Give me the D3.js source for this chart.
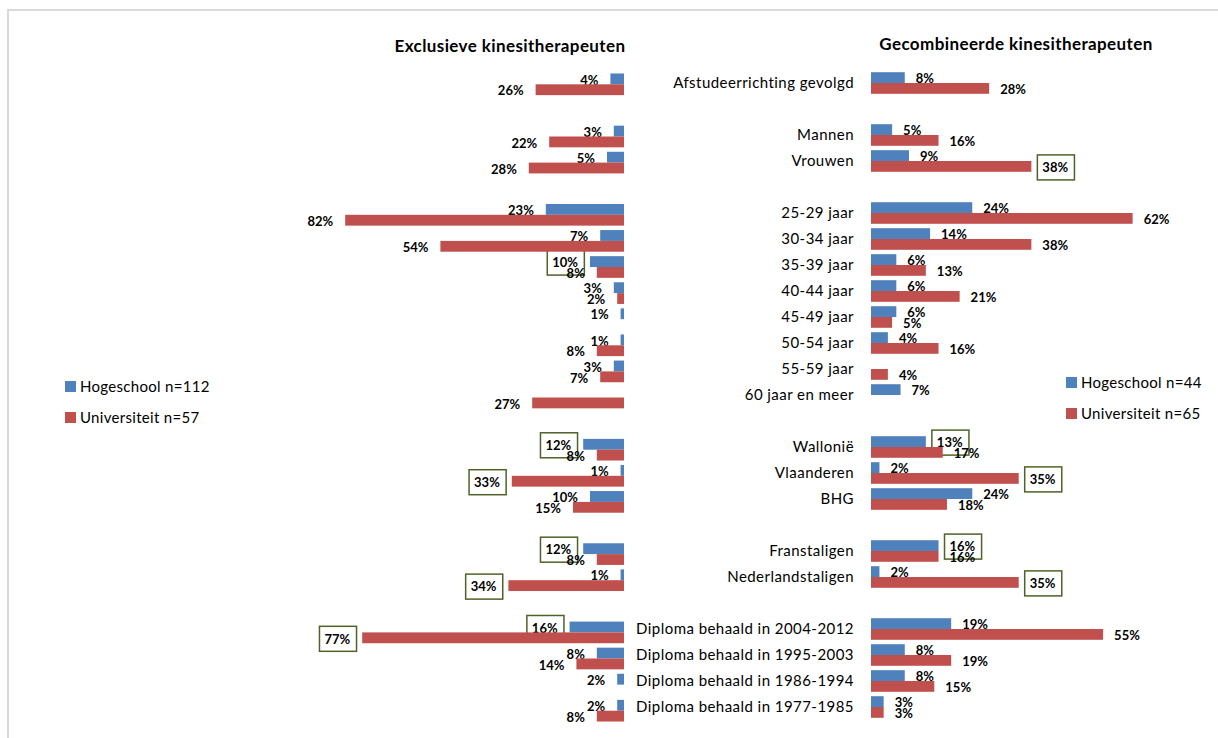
<!DOCTYPE html>
<html>
<head>
<meta charset="utf-8">
<script src="https://cdn.jsdelivr.net/npm/d3@7"></script>
<style>
  html, body { margin: 0; padding: 0; background: #fff; }
  svg { display: block; font-family: "Lato", "Liberation Sans", sans-serif; }
</style>
</head>
<body>
<svg id="chart" width="1218" height="738"></svg>
<script>
// Rows shared by both panels (empty strings are spacer rows between groups)
const rowLabels = [
  "Afstudeerrichting gevolgd", "",
  "Mannen", "Vrouwen", "",
  "25-29 jaar", "30-34 jaar", "35-39 jaar", "40-44 jaar", "45-49 jaar",
  "50-54 jaar", "55-59 jaar", "60 jaar en meer", "",
  "Wallonië", "Vlaanderen", "BHG", "",
  "Franstaligen", "Nederlandstaligen", "",
  "Diploma behaald in 2004-2012", "Diploma behaald in 1995-2003",
  "Diploma behaald in 1986-1994", "Diploma behaald in 1977-1985"
];

// Exclusieve kinesitherapeuten (%)
const exclHogeschool   = [4, null, 3, 5, null, 23, 7, 10, 3, 1, 1, 3, null, null, 12, 1, 10, null, 12, 1, null, 16, 8, 2, 2];
const exclUniversiteit = [26, null, 22, 28, null, 82, 54, 8, 2, null, 8, 7, 27, null, 8, 33, 15, null, 8, 34, null, 77, 14, null, 8];

// Gecombineerde kinesitherapeuten (%)
const combHogeschool   = [8, null, 5, 9, null, 24, 14, 6, 6, 6, 4, null, 7, null, 13, 2, 24, null, 16, 2, null, 19, 8, 8, 3];
const combUniversiteit = [28, null, 16, 38, null, 62, 38, 13, 21, 5, 16, 4, null, null, 17, 35, 18, null, 16, 35, null, 55, 19, 15, 3];

// Rows whose value label is framed as a highlight
const exclHogeschoolBoxed   = [7, 14, 18, 21];
const exclUniversiteitBoxed = [15, 19, 21];
const combHogeschoolBoxed   = [14, 18];
const combUniversiteitBoxed = [3, 15, 19];

const seriesNames = ["Hogeschool", "Universiteit"];
const exclLegend = ["Hogeschool n=112", "Universiteit n=57"];
const combLegend = ["Hogeschool n=44", "Universiteit n=65"];

const colors = { Hogeschool: "#4F81BD", Universiteit: "#C0504D" };
const boxColor = "#4F6228";

const svg = d3.select("#chart");

// outer chart frame
svg.append("path")
  .attr("d", "M8,738V10H1218")
  .attr("fill", "none")
  .attr("stroke", "#d9d9d9")
  .attr("stroke-width", 2);

const rowIdx = d3.range(rowLabels.length);

function panel(opts) {
  const g = svg.append("g");
  const y = d3.scaleBand()
    .domain(rowIdx)
    .range(opts.yRange)
    .paddingInner(0.17)
    .paddingOuter(0.085);
  const ySub = d3.scaleBand()
    .domain(seriesNames)
    .range([0, y.bandwidth()]);
  const x = d3.scaleLinear().domain([0, 100]).range(opts.xRange);
  const dir = opts.xRange[1] > opts.xRange[0] ? 1 : -1;

  const series = [
    { name: "Hogeschool", values: opts.hoge, boxed: opts.hogeBoxed },
    { name: "Universiteit", values: opts.univ, boxed: opts.univBoxed }
  ];

  series.forEach(s => {
    const pts = rowIdx.filter(i => s.values[i] != null)
      .map(i => ({ i, v: s.values[i], boxed: s.boxed.includes(i) }));

    g.append("g").selectAll("rect")
      .data(pts)
      .join("rect")
      .attr("x", d => Math.min(x(0), x(d.v)))
      .attr("width", d => Math.abs(x(d.v) - x(0)))
      .attr("y", d => y(d.i) + ySub(s.name))
      .attr("height", ySub.bandwidth())
      .attr("fill", colors[s.name]);

    const lbl = g.append("g").selectAll("g")
      .data(pts)
      .join("g")
      .attr("transform", d => {
        const cy = y(d.i) + ySub(s.name) + ySub.bandwidth() / 2 + 1;
        return `translate(${x(d.v) + dir * opts.labelGap},${cy})`;
      });

    lbl.append("text")
      .attr("text-anchor", dir > 0 ? "start" : "end")
      .attr("dy", "0.36em")
      .attr("font-size", 13)
      .attr("font-weight", "bold")
      .attr("fill", "#000")
      .text(d => d.v + "%");

    lbl.filter(d => d.boxed).each(function () {
      const grp = d3.select(this);
      const bb = grp.select("text").node().getBBox();
      grp.insert("rect", "text")
        .attr("x", bb.x - 5)
        .attr("y", -12.5)
        .attr("width", bb.width + 11)
        .attr("height", 25)
        .attr("fill", "none")
        .attr("stroke", boxColor)
        .attr("stroke-width", 1.5);
    });
  });

  // title
  g.append("text")
    .attr("x", opts.titleX)
    .attr("y", opts.titleY)
    .attr("text-anchor", "middle")
    .attr("font-size", 17)
    .attr("font-weight", "bold")
    .attr("letter-spacing", 0.4)
    .text(opts.title);

  // legend
  const leg = g.append("g").selectAll("g")
    .data(seriesNames.map((n, k) => ({ n, label: opts.legend[k], k })))
    .join("g")
    .attr("transform", d => `translate(${opts.legendX},${opts.legendY + d.k * 31})`);
  leg.append("rect")
    .attr("x", 0).attr("y", -5.5)
    .attr("width", 11).attr("height", 11)
    .attr("fill", d => colors[d.n]);
  leg.append("text")
    .attr("x", 15)
    .attr("dy", "0.35em")
    .attr("font-size", 15)
    .attr("letter-spacing", 0.3)
    .text(d => d.label);

  return { g, x, y };
}

panel({
  title: "Exclusieve kinesitherapeuten",
  titleX: 510, titleY: 52,
  xRange: [624, 284],
  yRange: [71.25, 723.75],
  hoge: exclHogeschool, univ: exclUniversiteit,
  hogeBoxed: exclHogeschoolBoxed, univBoxed: exclUniversiteitBoxed,
  labelGap: 12,
  legend: exclLegend, legendX: 65, legendY: 386.5
});

const right = panel({
  title: "Gecombineerde kinesitherapeuten",
  titleX: 1016, titleY: 50,
  xRange: [871, 1293],
  yRange: [70, 720],
  hoge: combHogeschool, univ: combUniversiteit,
  hogeBoxed: combHogeschoolBoxed, univBoxed: combUniversiteitBoxed,
  labelGap: 11,
  legend: combLegend, legendX: 1066, legendY: 382.5
});

// category labels to the left of the right-hand panel
right.g.append("g")
  .attr("transform", "translate(871,0)")
  .call(d3.axisLeft(right.y).tickSize(0).tickPadding(17).tickFormat(i => rowLabels[i]))
  .call(ax => ax.select(".domain").remove())
  .call(ax => ax.selectAll("text")
    .attr("font-family", "Lato, 'Liberation Sans', sans-serif")
    .attr("font-size", 15)
    .attr("letter-spacing", 0.45)
    .attr("fill", "#000"));
</script>
</body>
</html>
